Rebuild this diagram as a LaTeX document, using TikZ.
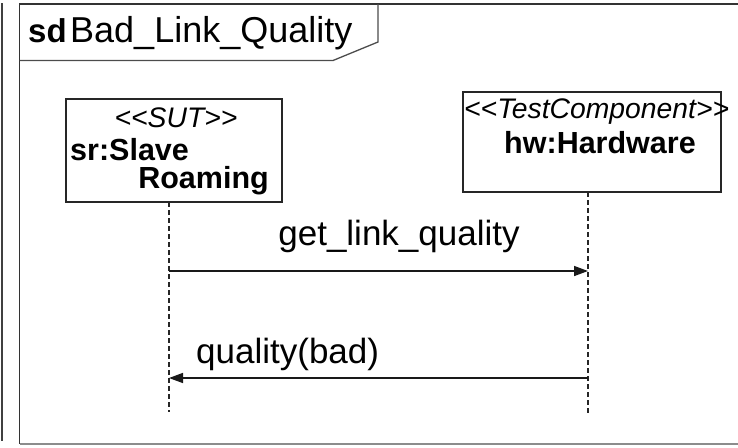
\documentclass[tikz,border=0pt]{standalone}
\usepackage{fontspec}
\newfontfamily\lsans{Liberation Sans}
\usetikzlibrary{arrows.meta}
\begin{document}
\begin{tikzpicture}[x=1pt,y=-1pt,
  txt/.style={inner sep=0pt,font=\lsans\fontsize{35}{40}\selectfont},
  bold/.style={inner sep=0pt,font=\lsans\bfseries\fontsize{30.5}{36}\selectfont},
  stereo/.style={inner sep=0pt,font=\lsans\itshape\fontsize{28.3}{32}\selectfont},
  headbox/.style={draw=black!85,line width=1.8pt},
  lifeline/.style={draw=black!85,line width=1.3pt,dash pattern=on 5pt off 3pt},
  msg/.style={draw=black!90,line width=1.5pt,-{Triangle[length=14pt,width=10pt]}}]
\useasboundingbox (0,0) rectangle (738,447);
% outer frame and neighbouring edge
\draw[black!75,line width=1.6pt] (2,3) -- (2,441);
\draw[black!80,line width=1.6pt] (745,4) -- (19.5,4) -- (19.5,444);
\draw[black!45,line width=1.2pt] (19.5,444) -- (745,444);
% frame heading pentagon
\draw[black!70,line width=1.3pt] (19.5,60.5) -- (333,60.5) -- (378,42) -- (378,4);
\node[bold,anchor=base west,font=\lsans\bfseries\fontsize{33}{38}\selectfont] (sd) at (28,42) {sd};
\node[txt,anchor=base west,font=\lsans\fontsize{36}{40}\selectfont] (title) at (70,42) {Bad\_Link\_Quality};
% lifeline heads
\draw[headbox] (66,99) rectangle (282,202);
\node[stereo,anchor=base] (sutst) at (176,127) {<<SUT>>};
\node[bold,anchor=base west] (sr1) at (70,160) {sr:Slave};
\node[bold,anchor=base east] (sr2) at (269,188) {Roaming};
\draw[headbox] (463,92) rectangle (721,192);
\node[stereo,anchor=base west] (tcst) at (464,118) {<<TestComponent>>};
\node[bold,anchor=base] (hw) at (600,153) {hw:Hardware};
% lifelines
\coordinate (sutTop) at (169,202);
\coordinate (sutEnd) at (169,412);
\coordinate (hwTop) at (588,192);
\coordinate (hwEnd) at (588,415);
\draw[lifeline] (sutTop) -- (sutEnd);
\draw[lifeline] (hwTop) -- (hwEnd);
% messages
\coordinate (m1a) at (169,271);
\coordinate (m1b) at (588,271);
\coordinate (m2a) at (588,378);
\coordinate (m2b) at (169,378);
\draw[msg] (m1a) -- (m1b);
\draw[msg] (m2a) -- (m2b);
\node[txt,anchor=base] (l1) at (399,245) {get\_link\_quality};
\node[txt,anchor=base west] (l2) at (196,363) {quality(bad)};
\end{tikzpicture}
\end{document}
